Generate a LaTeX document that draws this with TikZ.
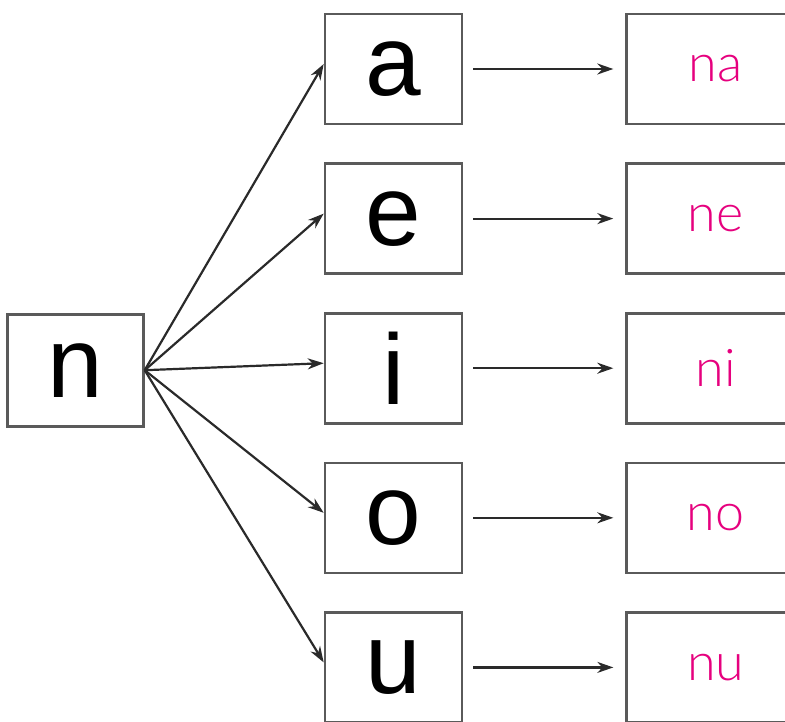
\documentclass[tikz,border=0pt]{standalone}
\usepackage{fontspec}
\setmainfont{Liberation Sans}
\newfontfamily\syllfont{Lato}[UprightFont=* Light]
\usetikzlibrary{arrows.meta}
\usetikzlibrary{positioning}
\definecolor{boxgray}{HTML}{5A5A5A}
\definecolor{arrowgray}{HTML}{2A2A2A}
\definecolor{syllpink}{HTML}{E6007E}

\begin{document}
\begin{tikzpicture}[
  x=1pt, y=-1pt,
  letter/.style  = {draw=boxgray, line width=2.6pt, fill=white, minimum width=137pt, minimum height=110pt,
                    inner sep=0pt, text depth=-4pt, font=\fontsize{100}{100}\selectfont},
  syllable/.style= {draw=boxgray, line width=2.6pt, fill=white, minimum width=178pt, minimum height=110pt,
                    inner sep=0pt, font=\syllfont\fontsize{52}{52}\selectfont, text=syllpink},
  link/.style    = {draw=arrowgray, line width=2.2pt, -{Stealth[length=16pt,width=11pt]}},
  node distance = 37pt
]
  \useasboundingbox (0,0) rectangle (785,721);

  \node[letter] (a) at (393.5,69) {a};
  \node[letter, below=of a] (e) {e};
  \node[letter, below=of e] (i) {i};
  \node[letter, below=of i] (o) {o};
  \node[letter, below=of o] (u) {u};

  \node[letter, left=179pt of i, minimum width=136pt, minimum height=112pt, yshift=-2pt] (n) {n};

  \node[syllable, right=162pt of a, anchor=west] (na) {na};
  \node[syllable, right=162pt of e, anchor=west] (ne) {ne};
  \node[syllable, right=162pt of i, anchor=west] (ni) {ni};
  \node[syllable, right=162pt of o, anchor=west] (no) {no};
  \node[syllable, right=162pt of u, anchor=west] (nu) {nu};

  \foreach \v in {a,e,i,o,u} {
    \draw[link] (n.east) -- ([yshift=5pt]\v.west);
    \draw[link, shorten <=10pt, shorten >=12pt] (\v.east) -- (n\v.west);
  }
\end{tikzpicture}
\end{document}
